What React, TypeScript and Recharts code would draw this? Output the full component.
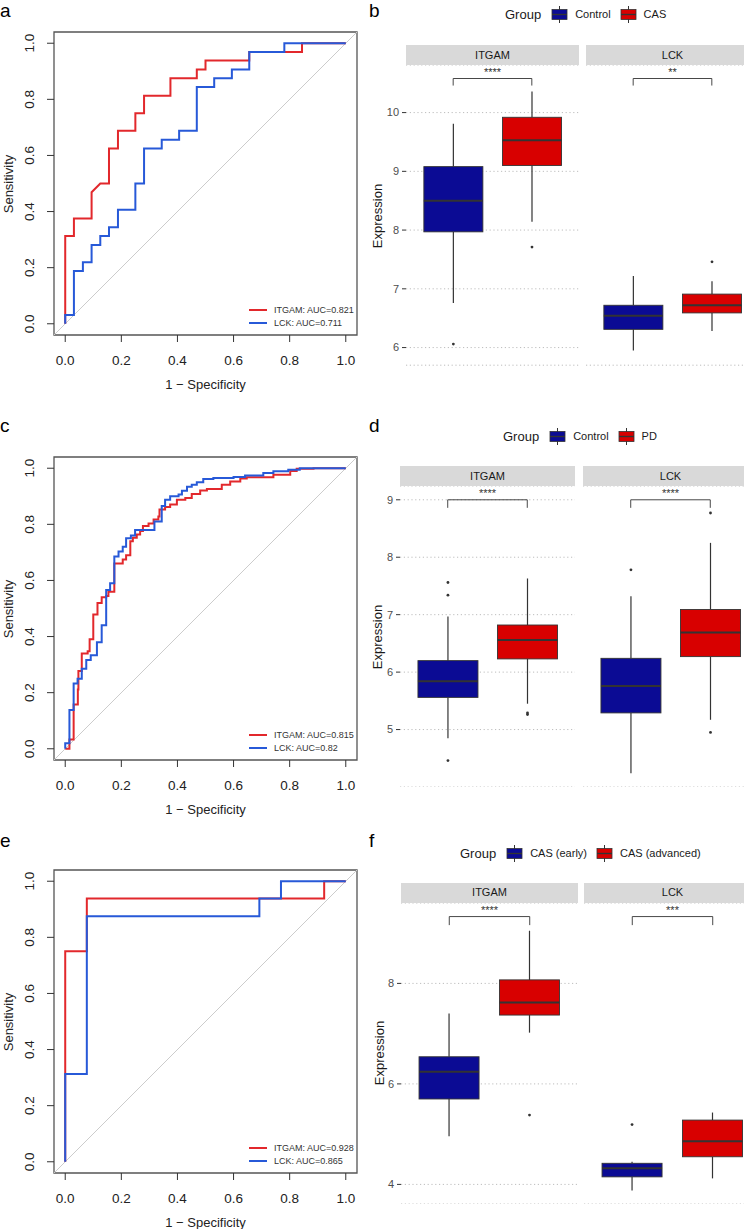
import React from "react";
import {
  LineChart,
  Line,
  XAxis,
  YAxis,
  ReferenceLine,
  ReferenceArea,
  ComposedChart,
  Bar,
  CartesianGrid,
} from "recharts";

const FONT = '"Liberation Sans", Arial, Helvetica, sans-serif';
const RED = "#e2282c";
const BLUE = "#2759d8";
const BOX_FILLS = ["#0b0b94", "#d80000"];
const INK = "#333333";

// ---------- ROC data (1 - specificity, sensitivity) ----------
const rocTicks = [0, 0.2, 0.4, 0.6, 0.8, 1];

// a
const aItgamFpr = [0, 0, 0.031, 0.031, 0.094, 0.094, 0.125, 0.156, 0.156, 0.188, 0.188, 0.25, 0.25, 0.281, 0.281, 0.375, 0.375, 0.469, 0.469, 0.5, 0.5, 0.656, 0.656, 0.844, 0.844, 1];
const aItgamSens = [0, 0.313, 0.313, 0.375, 0.375, 0.469, 0.5, 0.5, 0.625, 0.625, 0.688, 0.688, 0.75, 0.75, 0.813, 0.813, 0.875, 0.875, 0.906, 0.906, 0.938, 0.938, 0.969, 0.969, 1, 1];
const aLckFpr = [0, 0, 0.031, 0.031, 0.063, 0.063, 0.094, 0.094, 0.125, 0.125, 0.156, 0.156, 0.188, 0.188, 0.25, 0.25, 0.281, 0.281, 0.344, 0.344, 0.406, 0.406, 0.469, 0.469, 0.531, 0.531, 0.594, 0.594, 0.656, 0.656, 0.781, 0.781, 1];
const aLckSens = [0, 0.031, 0.031, 0.188, 0.188, 0.219, 0.219, 0.281, 0.281, 0.313, 0.313, 0.344, 0.344, 0.406, 0.406, 0.5, 0.5, 0.625, 0.625, 0.656, 0.656, 0.688, 0.688, 0.844, 0.844, 0.875, 0.875, 0.906, 0.906, 0.969, 0.969, 1, 1];

// c (step points)
const cItgamFpr = [0, 0.015, 0.03, 0.045, 0.047, 0.059, 0.08, 0.087, 0.1, 0.115, 0.13, 0.146, 0.154, 0.175, 0.205, 0.217, 0.232, 0.241, 0.255, 0.267, 0.277, 0.297, 0.315, 0.332, 0.336, 0.356, 0.374, 0.398, 0.428, 0.451, 0.481, 0.505, 0.558, 0.588, 0.624, 0.647, 0.742, 0.802, 0.825, 0.885, 1];
const cItgamSens = [0, 0.033, 0.158, 0.211, 0.277, 0.34, 0.348, 0.39, 0.479, 0.52, 0.54, 0.545, 0.56, 0.66, 0.675, 0.69, 0.74, 0.752, 0.764, 0.776, 0.794, 0.803, 0.817, 0.828, 0.853, 0.862, 0.871, 0.888, 0.894, 0.908, 0.921, 0.926, 0.941, 0.953, 0.963, 0.968, 0.977, 0.99, 0.998, 1, 1];
const cLckFpr = [0, 0, 0.015, 0.03, 0.044, 0.059, 0.075, 0.091, 0.113, 0.13, 0.146, 0.16, 0.175, 0.19, 0.205, 0.217, 0.234, 0.249, 0.318, 0.344, 0.356, 0.374, 0.404, 0.416, 0.434, 0.451, 0.469, 0.492, 0.528, 0.6, 0.641, 0.706, 0.742, 0.795, 0.836, 1];
const cLckSens = [0, 0.02, 0.138, 0.233, 0.25, 0.285, 0.316, 0.333, 0.38, 0.44, 0.566, 0.59, 0.685, 0.703, 0.72, 0.75, 0.76, 0.78, 0.81, 0.865, 0.888, 0.9, 0.906, 0.92, 0.934, 0.941, 0.95, 0.962, 0.965, 0.969, 0.974, 0.983, 0.989, 0.995, 1, 1];

// e
const eItgamFpr = [0, 0, 0.077, 0.077, 0.923, 0.923, 1];
const eItgamSens = [0, 0.75, 0.75, 0.938, 0.938, 1, 1];
const eLckFpr = [0, 0, 0.077, 0.077, 0.692, 0.692, 0.769, 0.769, 1];
const eLckSens = [0, 0.313, 0.313, 0.875, 0.875, 0.938, 0.938, 1, 1];

// ---------- boxplot data: [lower whisker, q1, median, q3, upper whisker] ----------
const bGroups = ["Control", "CAS"];
const bItgamControl = [6.76, 7.97, 8.5, 9.08, 9.81];
const bItgamCas = [8.14, 9.1, 9.53, 9.92, 10.36];
const bItgamOutliers = [[6.06], [7.71]];
const bLckControl = [5.95, 6.31, 6.54, 6.72, 7.22];
const bLckCas = [6.28, 6.59, 6.72, 6.91, 7.13];
const bLckOutliers = [[], [7.46]];
const bTicks = [6, 7, 8, 9, 10];
const bDomain = [5.7, 10.81];
const bBracket = [10.58, 10.46];
const bStars = ["****", "**"];

const dGroups = ["Control", "PD"];
const dItgamControl = [4.85, 5.56, 5.84, 6.2, 6.97];
const dItgamPd = [5.45, 6.23, 6.56, 6.82, 7.63];
const dItgamOutliers = [[7.56, 7.34, 4.46], [5.29, 5.26]];
const dLckControl = [4.24, 5.29, 5.76, 6.24, 7.32];
const dLckPd = [5.17, 6.27, 6.69, 7.09, 8.25];
const dLckOutliers = [[7.78], [8.77, 4.95]];
const dTicks = [4, 5, 6, 7, 8, 9];
const dDomain = [4.0, 9.24];
const dBracket = [9.0, 8.86];
const dStars = ["****", "****"];

const fGroups = ["CAS (early)", "CAS (advanced)"];
const fItgamEarly = [4.96, 5.7, 6.24, 6.54, 7.4];
const fItgamAdvanced = [7.02, 7.37, 7.62, 8.07, 9.05];
const fItgamOutliers = [[], [5.38]];
const fLckEarly = [3.88, 4.15, 4.32, 4.42, 4.45];
const fLckAdvanced = [4.12, 4.55, 4.86, 5.28, 5.43];
const fLckOutliers = [[5.19], []];
const fTicks = [4, 6, 8];
const fDomain = [3.61, 9.6];
const fBracket = [9.33, 9.16];
const fStars = ["****", "***"];

const rocRows = (fpr: number[], sens: number[]) => fpr.map((f, i) => ({ fpr: f, sens: sens[i] }));

const boxRows = (groups: string[], stats: number[][], outliers: number[][]) =>
  groups.map((g, i) => ({
    group: g,
    box: [stats[i][1], stats[i][3]],
    lo: stats[i][0],
    med: stats[i][2],
    hi: stats[i][4],
    out: outliers[i],
    fill: BOX_FILLS[i],
  }));

function BoxShape(props: any) {
  const { x, y, width, height, payload } = props;
  const [q1, q3] = payload.box;
  const k = height / (q3 - q1);
  const py = (v: number) => y + (q3 - v) * k;
  const cx = x + width / 2;
  return (
    <g>
      <line x1={cx} x2={cx} y1={py(payload.hi)} y2={y} stroke={INK} strokeWidth={1.2} />
      <line x1={cx} x2={cx} y1={y + height} y2={py(payload.lo)} stroke={INK} strokeWidth={1.2} />
      <rect x={x} y={y} width={width} height={height} fill={payload.fill} stroke={INK} strokeWidth={0.9} />
      <line x1={x} x2={x + width} y1={py(payload.med)} y2={py(payload.med)} stroke={INK} strokeWidth={2} />
      {payload.out.map((o: number, i: number) => (
        <circle key={i} cx={cx} cy={py(o)} r={1.4} fill={INK} />
      ))}
    </g>
  );
}

function Facet({ rows, groups, domain, ticks, left, top, w, h, axis, bracket, stars, title, stripTop }: any) {
  const axisW = axis ? 30 : 0;
  return (
    <>
      <div
        style={{
          position: "absolute",
          left,
          top: stripTop,
          width: w,
          height: top - stripTop,
          background: "#d9d9d9",
          color: "#1a1a1a",
          fontSize: 11,
          lineHeight: `${top - stripTop}px`,
          textAlign: "center",
        }}
      >
        {title}
      </div>
      <div style={{ position: "absolute", left: left - axisW, top }}>
        <ComposedChart width={w + axisW} height={h} data={rows} margin={{ top: 0, right: 0, bottom: 0, left: 0 }}>
          <CartesianGrid vertical={false} stroke="#bdbdbd" strokeDasharray="1.2 2.6" />
          <XAxis dataKey="group" type="category" hide padding={{ left: w / 22, right: w / 22 }} />
          <YAxis
            type="number"
            domain={domain}
            ticks={ticks}
            allowDataOverflow
            width={axisW}
            axisLine={false}
            tickLine={axis ? { stroke: INK } : false}
            tickSize={4}
            tickMargin={3}
            tick={axis ? { fontSize: 11, fill: "#4d4d4d", fontFamily: FONT } : false}
          />
          <Bar dataKey="box" barSize={Math.round(w * 0.341)} shape={BoxShape} isAnimationActive={false} />
          <ReferenceLine
            segment={[{ x: groups[0], y: bracket[0] }, { x: groups[1], y: bracket[0] }]}
            stroke={INK}
            strokeWidth={0.9}
            label={{ value: stars, position: "top", offset: 3, fontSize: 11, fill: INK, fontFamily: FONT }}
          />
          <ReferenceLine segment={[{ x: groups[0], y: bracket[0] }, { x: groups[0], y: bracket[1] }]} stroke={INK} strokeWidth={0.9} />
          <ReferenceLine segment={[{ x: groups[1], y: bracket[0] }, { x: groups[1], y: bracket[1] }]} stroke={INK} strokeWidth={0.9} />
        </ComposedChart>
      </div>
    </>
  );
}

function LegendKey({ fill }: { fill: string }) {
  return (
    <svg width={17} height={17} style={{ display: "block" }}>
      <line x1={8.5} x2={8.5} y1={0} y2={17} stroke={INK} strokeWidth={1} />
      <rect x={1} y={3.5} width={15} height={10} fill={fill} stroke={INK} strokeWidth={0.8} />
      <line x1={1} x2={16} y1={8.5} y2={8.5} stroke={INK} strokeWidth={1.4} />
    </svg>
  );
}

function BoxPanel({ cfg, groups, itgam, lck, domain, ticks, bracket, stars }: any) {
  const h = cfg.bottom - cfg.top;
  return (
    <>
      <div
        style={{
          position: "absolute",
          left: cfg.legendLeft,
          top: cfg.legendY - 9,
          height: 18,
          display: "flex",
          alignItems: "center",
          whiteSpace: "nowrap",
        }}
      >
        <span style={{ fontSize: 13, color: "#1a1a1a", marginRight: 10 }}>Group</span>
        <LegendKey fill={BOX_FILLS[0]} />
        <span style={{ fontSize: 11, color: "#1a1a1a", marginLeft: 7, marginRight: 9 }}>{groups[0]}</span>
        <LegendKey fill={BOX_FILLS[1]} />
        <span style={{ fontSize: 11, color: "#1a1a1a", marginLeft: 7 }}>{groups[1]}</span>
      </div>
      <div
        style={{
          position: "absolute",
          left: cfg.ylabX,
          top: (cfg.top + cfg.bottom) / 2,
          transform: "translate(-50%, -50%) rotate(-90deg)",
          fontSize: 13,
          color: "#1a1a1a",
          whiteSpace: "nowrap",
        }}
      >
        Expression
      </div>
      <Facet rows={itgam} groups={groups} domain={domain} ticks={ticks} left={cfg.itgamLeft} top={cfg.top} stripTop={cfg.stripTop}
        w={cfg.w} h={h} axis bracket={bracket} stars={stars[0]} title="ITGAM" />
      <Facet rows={lck} groups={groups} domain={domain} ticks={ticks} left={cfg.lckLeft} top={cfg.top} stripTop={cfg.stripTop}
        w={cfg.w} h={h} axis={false} bracket={bracket} stars={stars[1]} title="LCK" />
    </>
  );
}

function RocPanel({ frameTop, itgam, lck, aucs, curve }: any) {
  const chartTop = frameTop - 32;
  const frameBottom = frameTop + 303;
  return (
    <>
      <div style={{ position: "absolute", left: 0, top: chartTop }}>
        <LineChart width={372} height={400} margin={{ top: 32, right: 15, left: 0, bottom: 0 }}>
          <XAxis
            type="number"
            dataKey="fpr"
            domain={[-0.04, 1.04]}
            ticks={rocTicks}
            allowDataOverflow
            height={65}
            axisLine={false}
            tickLine={{ stroke: INK, strokeWidth: 1 }}
            tickSize={7}
            tick={(p: any) => (
              <text x={p.x} y={360} textAnchor="middle" dominantBaseline="central" fontSize={13.5} fill="#222" fontFamily={FONT}>
                {Number(p.payload.value).toFixed(1)}
              </text>
            )}
          />
          <YAxis
            type="number"
            domain={[-0.04, 1.04]}
            ticks={rocTicks}
            allowDataOverflow
            width={54}
            axisLine={false}
            tickLine={{ stroke: INK, strokeWidth: 1 }}
            tickSize={7}
            tick={(p: any) => (
              <text x={30} y={p.y} transform={`rotate(-90 30 ${p.y})`} textAnchor="middle" dominantBaseline="central" fontSize={13.5} fill="#222" fontFamily={FONT}>
                {Number(p.payload.value).toFixed(1)}
              </text>
            )}
          />
          <ReferenceLine segment={[{ x: -0.04, y: -0.04 }, { x: 1.04, y: 1.04 }]} stroke="#cccccc" strokeWidth={1} ifOverflow="visible" />
          <Line data={itgam} dataKey="sens" type={curve} stroke={RED} strokeWidth={2} dot={false} isAnimationActive={false} />
          <Line data={lck} dataKey="sens" type={curve} stroke={BLUE} strokeWidth={2} dot={false} isAnimationActive={false} />
          <ReferenceArea x1={-0.04} x2={1.04} y1={-0.04} y2={1.04} fill="none" stroke="#555" strokeWidth={1.3} ifOverflow="visible" />
        </LineChart>
      </div>
      {[0, 1].map((i) => (
        <div
          key={i}
          style={{
            position: "absolute",
            left: 249,
            top: frameBottom - 25 + i * 12.5 - 6,
            height: 12,
            display: "flex",
            alignItems: "center",
            whiteSpace: "nowrap",
          }}
        >
          <div style={{ width: 18, height: 2, background: i === 0 ? RED : BLUE }} />
          <span style={{ marginLeft: 7, fontSize: 9, color: "#333" }}>{aucs[i]}</span>
        </div>
      ))}
      <div
        style={{
          position: "absolute",
          left: 205.5,
          top: frameBottom + 49,
          transform: "translate(-50%, -50%)",
          fontSize: 13,
          color: "#222",
          whiteSpace: "nowrap",
        }}
      >
        1 − Specificity
      </div>
      <div
        style={{
          position: "absolute",
          left: 8,
          top: frameTop + 151.5,
          transform: "translate(-50%, -50%) rotate(-90deg)",
          fontSize: 13,
          color: "#222",
          whiteSpace: "nowrap",
        }}
      >
        Sensitivity
      </div>
    </>
  );
}

function Letter({ ch, left, baseline }: any) {
  return (
    <div style={{ position: "absolute", left, top: baseline - 16, fontSize: 19, lineHeight: 1, color: "#000" }}>{ch}</div>
  );
}

const bLayout = { legendY: 14, legendLeft: 505, stripTop: 45, top: 65.4, bottom: 365.6, itgamLeft: 406, lckLeft: 586, w: 173, ylabX: 377 };
const dLayout = { legendY: 436, legendLeft: 503, stripTop: 466, top: 486.2, bottom: 787.2, itgamLeft: 400, lckLeft: 583, w: 175, ylabX: 377 };
const fLayout = { legendY: 853, legendLeft: 460, stripTop: 883, top: 902.6, bottom: 1203.6, itgamLeft: 401, lckLeft: 584, w: 177, ylabX: 379 };

export default function App() {
  return (
    <div
      style={{
        position: "absolute",
        left: 0,
        top: 0,
        width: 744,
        height: 1229,
        overflow: "hidden",
        background: "#fff",
        fontFamily: FONT,
      }}
    >
      <Letter ch="a" left={0} baseline={17} />
      <Letter ch="b" left={369} baseline={17} />
      <Letter ch="c" left={0} baseline={432} />
      <Letter ch="d" left={369} baseline={432} />
      <Letter ch="e" left={0} baseline={847} />
      <Letter ch="f" left={369} baseline={847} />

      <RocPanel frameTop={32} curve="linear" itgam={rocRows(aItgamFpr, aItgamSens)} lck={rocRows(aLckFpr, aLckSens)}
        aucs={["ITGAM: AUC=0.821", "LCK: AUC=0.711"]} />
      <RocPanel frameTop={457} curve="stepAfter" itgam={rocRows(cItgamFpr, cItgamSens)} lck={rocRows(cLckFpr, cLckSens)}
        aucs={["ITGAM: AUC=0.815", "LCK: AUC=0.82"]} />
      <RocPanel frameTop={870} curve="linear" itgam={rocRows(eItgamFpr, eItgamSens)} lck={rocRows(eLckFpr, eLckSens)}
        aucs={["ITGAM: AUC=0.928", "LCK: AUC=0.865"]} />

      <BoxPanel cfg={bLayout} groups={bGroups} domain={bDomain} ticks={bTicks} bracket={bBracket} stars={bStars}
        itgam={boxRows(bGroups, [bItgamControl, bItgamCas], bItgamOutliers)}
        lck={boxRows(bGroups, [bLckControl, bLckCas], bLckOutliers)} />
      <BoxPanel cfg={dLayout} groups={dGroups} domain={dDomain} ticks={dTicks} bracket={dBracket} stars={dStars}
        itgam={boxRows(dGroups, [dItgamControl, dItgamPd], dItgamOutliers)}
        lck={boxRows(dGroups, [dLckControl, dLckPd], dLckOutliers)} />
      <BoxPanel cfg={fLayout} groups={fGroups} domain={fDomain} ticks={fTicks} bracket={fBracket} stars={fStars}
        itgam={boxRows(fGroups, [fItgamEarly, fItgamAdvanced], fItgamOutliers)}
        lck={boxRows(fGroups, [fLckEarly, fLckAdvanced], fLckOutliers)} />
    </div>
  );
}
